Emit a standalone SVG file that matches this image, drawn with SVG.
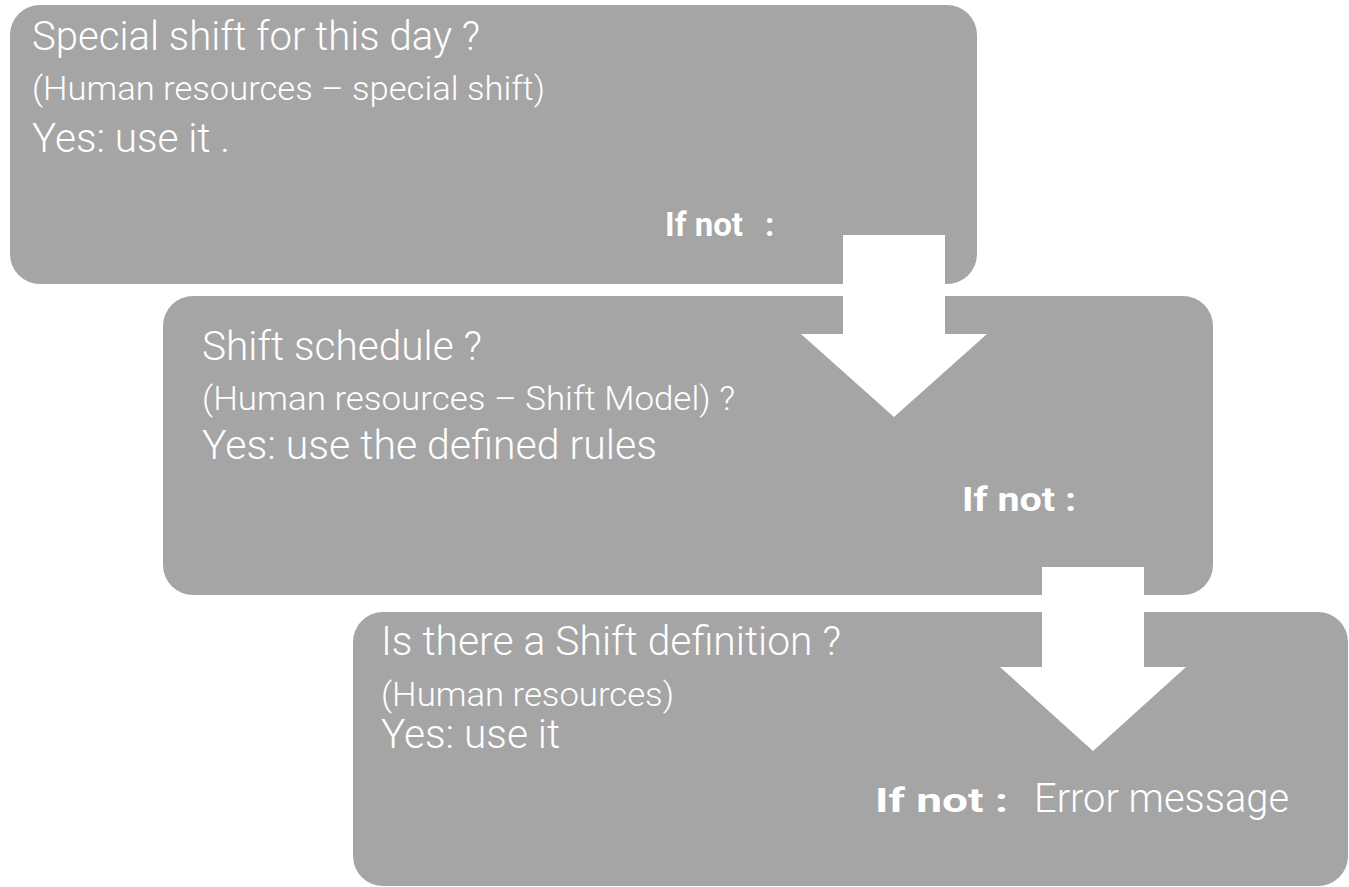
<svg xmlns="http://www.w3.org/2000/svg" width="1349" height="887" viewBox="0 0 1349 887">
  <style>
    .box { fill: #a5a5a5; }
    .arrow { fill: #ffffff; }
    text { fill: #ffffff; font-family: Roboto, "Open Sans", "Liberation Sans", sans-serif; }
    .big { font-size: 40px; font-weight: 300; }
    .small { font-size: 34px; font-weight: 300; }
    .bold { font-size: 33px; font-weight: 700; }
  </style>

  <!-- Step 1: special shift -->
  <g id="node-special-shift">
    <rect class="box" x="10" y="5" width="967" height="279" rx="30" ry="30"/>
    <text class="big" x="32" y="50" textLength="448" lengthAdjust="spacingAndGlyphs">Special shift for this day ?</text>
    <text class="small" x="32" y="100" textLength="513" lengthAdjust="spacingAndGlyphs">(Human resources – special shift)</text>
    <text class="big" x="32" y="152" textLength="198" lengthAdjust="spacingAndGlyphs">Yes: use it .</text>
    <text class="bold" x="665" y="236">If not<tspan dx="22">:</tspan></text>
  </g>

  <!-- Step 2: shift schedule -->
  <g id="node-shift-schedule">
    <rect class="box" x="163" y="296" width="1050" height="299" rx="30" ry="30"/>
    <text class="big" x="202" y="360" textLength="280" lengthAdjust="spacingAndGlyphs">Shift schedule ?</text>
    <text class="small" x="202" y="410" textLength="533" lengthAdjust="spacingAndGlyphs">(Human resources – Shift Model) ?</text>
    <text class="big" x="202" y="459" textLength="455" lengthAdjust="spacingAndGlyphs">Yes: use the defined rules</text>
    <text class="bold" x="962" y="511" textLength="114" lengthAdjust="spacingAndGlyphs">If not :</text>
  </g>

  <!-- Step 3: shift definition -->
  <g id="node-shift-definition">
    <rect class="box" x="353" y="612" width="995" height="274" rx="30" ry="30"/>
    <text class="big" x="381" y="655" textLength="460" lengthAdjust="spacingAndGlyphs">Is there a Shift definition ?</text>
    <text class="small" x="381" y="706" textLength="293" lengthAdjust="spacingAndGlyphs">(Human resources)</text>
    <text class="big" x="381" y="748" textLength="179" lengthAdjust="spacingAndGlyphs">Yes: use it</text>
    <text class="bold" x="875" y="812" textLength="133" lengthAdjust="spacingAndGlyphs">If not :</text>
    <text class="big" x="1034" y="812" textLength="255" lengthAdjust="spacingAndGlyphs">Error message</text>
  </g>

  <!-- Fall-through arrows -->
  <g id="connectors">
    <polygon class="arrow" points="843,235 945,235 945,334 987,334 894,417 801,334 843,334"/>
    <polygon class="arrow" points="1042,567 1144,567 1144,667 1186,667 1093,751 1000,667 1042,667"/>
  </g>
</svg>
